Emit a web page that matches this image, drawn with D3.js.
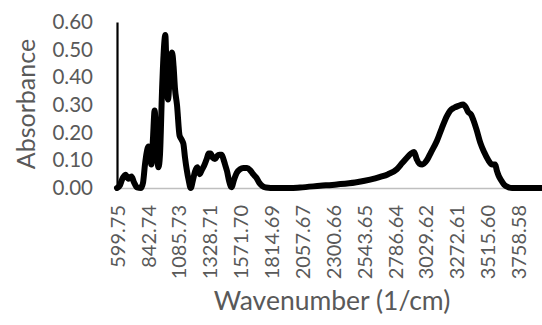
<!DOCTYPE html>
<html>
<head>
<meta charset="utf-8">
<script src="https://cdn.jsdelivr.net/npm/d3@7"></script>
<style>
  html, body { margin: 0; padding: 0; background: #fff; }
  svg { display: block; }
  text { font-family: Lato, "Open Sans", sans-serif; fill: #595959; }
</style>
</head>
<body>
<svg id="chart" width="542" height="325"></svg>
<script>
// ---- data ----
const wavenumbers = [
  599.75, 623, 639, 667, 690, 714, 734, 757, 789, 805,
  820, 834, 848, 860, 870, 883, 896, 909, 926, 938,
  954, 966, 980, 990, 1001, 1017, 1033, 1045, 1056, 1072,
  1092, 1108, 1122, 1135, 1149, 1163, 1180, 1198, 1214, 1232,
  1250, 1267, 1285, 1306, 1321, 1336, 1352, 1371, 1387, 1405,
  1423, 1437, 1450, 1466, 1482, 1501, 1521, 1542, 1568, 1594,
  1623, 1647, 1671, 1700, 1718, 1742, 1773, 1844, 1962, 2041,
  2198, 2330, 2474, 2592, 2671, 2734, 2802, 2844, 2883, 2915,
  2938, 2958, 2978, 3002, 3038, 3072, 3117, 3155, 3196, 3222,
  3253, 3287, 3324, 3347, 3363, 3387, 3405, 3430, 3458, 3489,
  3523, 3552, 3576, 3588, 3603, 3623, 3647, 3679, 3710, 3999.66
];
const absorbance = [
  0.000, 0.010, 0.030, 0.048, 0.033, 0.042, 0.020, 0.002, 0.000, 0.020,
  0.085, 0.130, 0.150, 0.120, 0.085, 0.180, 0.280, 0.160, 0.075, 0.120,
  0.350, 0.480, 0.553, 0.420, 0.320, 0.420, 0.490, 0.440, 0.360, 0.300,
  0.190, 0.175, 0.160, 0.110, 0.065, 0.030, 0.000, 0.030, 0.060, 0.075,
  0.050, 0.065, 0.080, 0.105, 0.125, 0.125, 0.110, 0.105, 0.115, 0.120,
  0.120, 0.105, 0.085, 0.060, 0.025, 0.003, 0.030, 0.055, 0.068, 0.072,
  0.072, 0.065, 0.050, 0.035, 0.020, 0.008, 0.002, 0.000, 0.000, 0.002,
  0.008, 0.013, 0.020, 0.030, 0.040, 0.050, 0.068, 0.090, 0.110, 0.125,
  0.130, 0.105, 0.088, 0.085, 0.100, 0.130, 0.170, 0.215, 0.260, 0.280,
  0.290, 0.297, 0.302, 0.290, 0.275, 0.265, 0.245, 0.210, 0.165, 0.130,
  0.100, 0.085, 0.085, 0.065, 0.045, 0.028, 0.012, 0.003, 0.000, 0.000
];
const xTickLabels = ["599.75","842.74","1085.73","1328.71","1571.70","1814.69","2057.67",
                     "2300.66","2543.65","2786.64","3029.62","3272.61","3515.60","3758.58"];
const yTicks = [0, 0.1, 0.2, 0.3, 0.4, 0.5, 0.6];

// ---- layout ----
const svg = d3.select("#chart");
const mLeft = 117, mRight = 549, mTop = 22, mBottom = 188;

const x = d3.scaleLinear().domain([599.75, 3999.66]).range([mLeft, mRight]);
const y = d3.scaleLinear().domain([0, 0.6]).range([mBottom, mTop]);

// x axis (gray line, rotated labels)
const xAxis = d3.axisBottom(x)
  .tickValues(xTickLabels.map(Number))
  .tickFormat((d, i) => xTickLabels[i])
  .tickSize(0)
  .tickSizeOuter(0);
const gx = svg.append("g").attr("transform", `translate(0,${mBottom})`).call(xAxis);
gx.select(".domain").attr("stroke", "#bfbfbf").attr("stroke-width", 1.3);
gx.selectAll("text")
  .attr("transform", "rotate(-90)")
  .attr("x", -17).attr("y", 0).attr("dy", "0.36em")
  .attr("text-anchor", "end")
  .style("font-size", "20px")
  .style("font-family", "Lato, 'Open Sans', sans-serif")
  .attr("fill", "#595959");

// data line
const line = d3.line()
  .x((d, i) => x(wavenumbers[i]))
  .y(d => y(d))
  .curve(d3.curveMonotoneX);
svg.append("path")
  .datum(absorbance)
  .attr("d", line)
  .attr("fill", "none")
  .attr("stroke", "#000")
  .attr("stroke-width", 6)
  .attr("stroke-linejoin", "round")
  .attr("stroke-linecap", "round");

// y axis
const yAxis = d3.axisLeft(y)
  .tickValues(yTicks)
  .tickFormat(d3.format(".2f"))
  .tickSize(0)
  .tickSizeOuter(0)
  .tickPadding(24);
const gy = svg.append("g").attr("transform", `translate(${mLeft},0)`).call(yAxis);
gy.select(".domain").attr("stroke", "#000").attr("stroke-width", 2.2);
gy.selectAll("text")
  .style("font-size", "20.5px")
  .style("font-family", "Lato, 'Open Sans', sans-serif")
  .attr("fill", "#595959");

// titles
svg.append("text")
  .attr("transform", "translate(35,104) rotate(-90)")
  .attr("text-anchor", "middle")
  .style("font-size", "25px")
  .text("Absorbance");
svg.append("text")
  .attr("x", 332).attr("y", 310)
  .attr("text-anchor", "middle")
  .style("font-size", "26.5px")
  .text("Wavenumber (1/cm)");
</script>
</body>
</html>
